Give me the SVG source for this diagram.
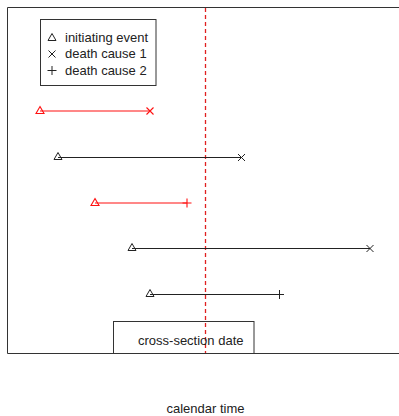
<svg xmlns="http://www.w3.org/2000/svg" width="399" height="416" viewBox="0 0 399 416">
<style>
text{font-family:"Liberation Sans",Arial,sans-serif;font-size:13px;fill:#222}
</style>
<defs>
<path id="tri" d="M0,-4.5 L4,2.5 L-4,2.5 Z"/>
<path id="cross" d="M-3.5,-3.5 L3.5,3.5 M-3.5,3.5 L3.5,-3.5"/>
<path id="plus" d="M-4.5,0 L4.5,0 M0,-4.5 L0,4.5"/>
</defs>
<rect width="399" height="416" fill="#fff"/>
<g id="frame">
<path d="M399.5,7.5 H7.5 V353.5 H399.5" fill="none" stroke="#333" stroke-width="1"/>
</g>
<g id="crosssection-line">
<line x1="205.5" y1="8" x2="205.5" y2="353" stroke="#e02020" stroke-width="1.3" stroke-dasharray="4,3"/>
</g>
<g id="connectors">
<line x1="40" y1="111" x2="150" y2="111" stroke="#ff1010" stroke-width="1.1"/>
<line x1="58" y1="157.5" x2="241" y2="157.5" stroke="#222" stroke-width="1"/>
<line x1="95" y1="203" x2="187" y2="203" stroke="#ff1010" stroke-width="1.1"/>
<line x1="132" y1="248.5" x2="370" y2="248.5" stroke="#222" stroke-width="1"/>
<line x1="150" y1="294.5" x2="279" y2="294.5" stroke="#222" stroke-width="1"/>
</g>
<g id="case1" fill="none" stroke="#ff1010" stroke-width="1.1">
<use href="#tri" x="40" y="111"/>
<use href="#cross" x="150" y="111"/>
</g>
<g id="case2" fill="none" stroke="#222" stroke-width="1">
<use href="#tri" x="58" y="157"/>
<use href="#cross" x="241.5" y="157.5"/>
</g>
<g id="case3" fill="none" stroke="#ff1010" stroke-width="1.1">
<use href="#tri" x="95" y="203"/>
<use href="#plus" x="187" y="203"/>
</g>
<g id="case4" fill="none" stroke="#222" stroke-width="1">
<use href="#tri" x="132" y="248"/>
<use href="#cross" x="370" y="248.5"/>
</g>
<g id="case5" fill="none" stroke="#222" stroke-width="1">
<use href="#tri" x="150" y="294"/>
<use href="#plus" x="279.5" y="294.5"/>
</g>
<g id="legend">
<rect x="40.5" y="19.5" width="115.5" height="66" fill="#fff" stroke="#333"/>
<g fill="none" stroke="#222" stroke-width="1">
<use href="#tri" x="52" y="38"/>
<use href="#cross" x="52" y="54"/>
<use href="#plus" x="52" y="70.5"/>
</g>
<text x="65" y="42">initiating event</text>
<text x="65" y="58">death cause 1</text>
<text x="65" y="75">death cause 2</text>
</g>
<g id="cross-section-label">
<rect x="113.5" y="321.5" width="140.5" height="32" fill="none" stroke="#333"/>
<text x="138" y="345">cross-section date</text>
</g>
<g id="axis-label">
<text x="205.5" y="413" text-anchor="middle">calendar time</text>
</g>
</svg>
